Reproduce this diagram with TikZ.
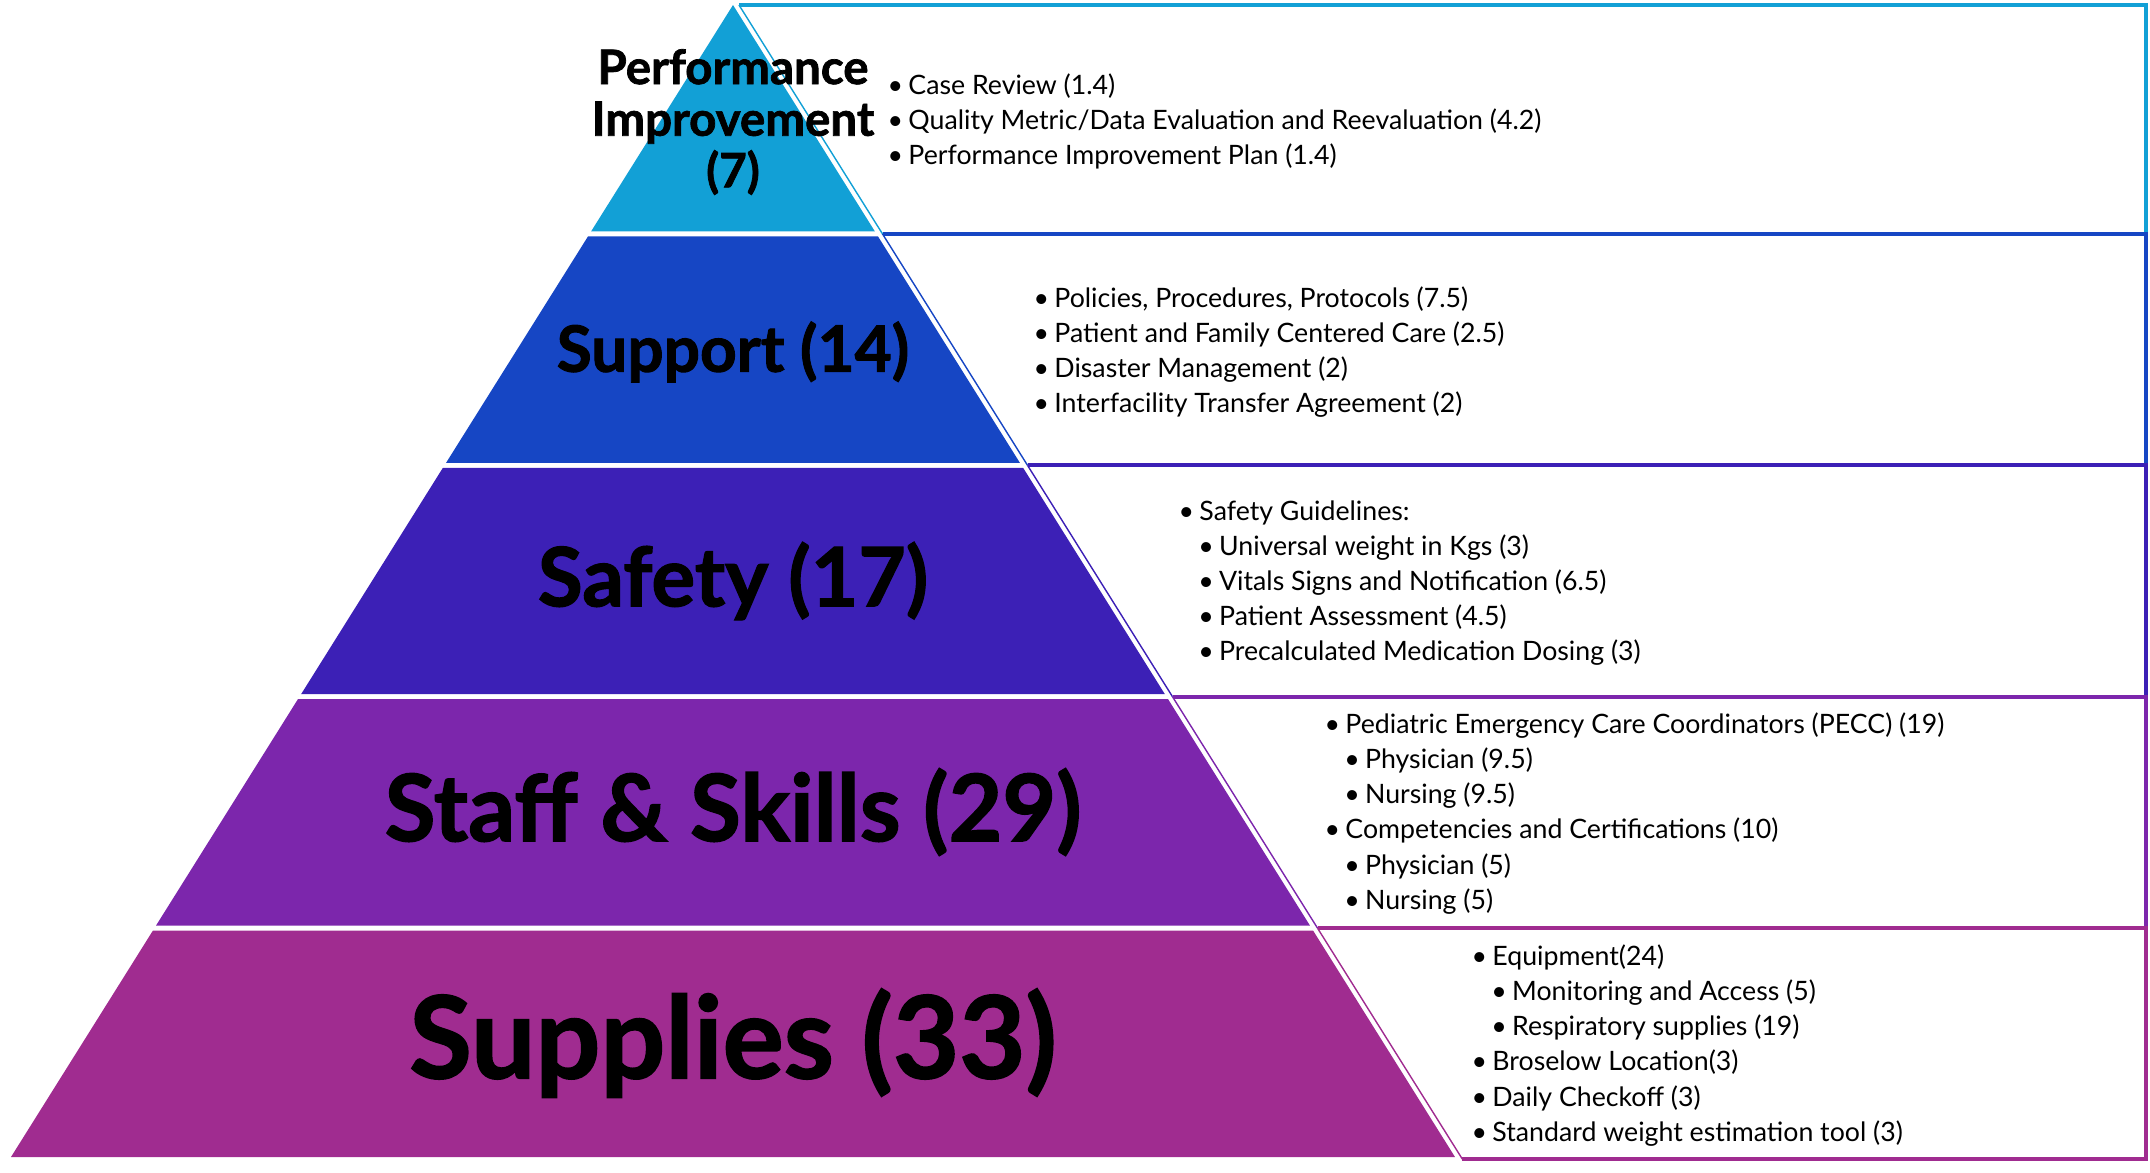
\documentclass[tikz,border=0pt]{standalone}
\usepackage{fontspec}
\setmainfont{Lato}
\newfontfamily\ttlfont[BoldFeatures={FakeBold=1.5}]{Lato}
\definecolor{cA}{RGB}{18,160,214}
\definecolor{cB}{RGB}{22,70,196}
\definecolor{cC}{RGB}{60,32,182}
\definecolor{cD}{RGB}{124,38,172}
\definecolor{cE}{RGB}{160,44,144}
\newcommand\bitem{\makebox[5.9pt][l]{\textbullet}}
\newcommand\sitem{\hspace*{5.6pt}\bitem}
\begin{document}
\begin{tikzpicture}[x=0.1mm,y=-0.1mm,
  ttl/.style={text=black, align=center, inner sep=0pt},
  lst/.style={anchor=north west, align=left, inner sep=0pt, font=\fontsize{7.6}{10}\selectfont},
  edge/.style={line width=1.14pt, line join=miter},
  diag/.style={line width=0.4pt}]
\useasboundingbox (0,0) rectangle (2150,1173);

% text boxes
\draw[edge, cA] (739,5) -- (2146,5) -- (2146,233.9);
\draw[diag, cA] (739,5) -- (882.5,233.9);
\draw[edge, cB] (882.5,233.9) -- (2146,233.9) -- (2146,465.3);
\draw[diag, cB] (882.5,233.9) -- (1027.5,465.3);
\draw[edge, cC] (1027.5,465.3) -- (2146,465.3) -- (2146,696.7);
\draw[diag, cC] (1027.5,465.3) -- (1172.5,696.7);
\draw[edge, cD] (1172.5,696.7) -- (2146,696.7) -- (2146,928.1);
\draw[diag, cD] (1172.5,696.7) -- (1317.5,928.1);
\draw[edge, cE] (1317.5,928.1) -- (2146,928.1) -- (2146,1159) -- (1462.3,1159);
\draw[diag, cE] (1317.5,928.1) -- (1462.3,1159);

% pyramid bands
\fill[cA] (733,5) -- (874.9,231.4) -- (591.1,231.4) -- cycle;
\fill[cB] (588.0,236.4) -- (878.0,236.4) -- (1019.9,462.8) -- (446.1,462.8) -- cycle;
\fill[cC] (442.9,467.8) -- (1023.1,467.8) -- (1164.9,694.2) -- (301.1,694.2) -- cycle;
\fill[cD] (297.9,699.2) -- (1168.1,699.2) -- (1310.0,925.6) -- (156.0,925.6) -- cycle;
\fill[cE] (152.9,930.6) -- (1313.1,930.6) -- (1455,1157) -- (11,1157) -- cycle;

% titles
\node[ttl, font=\ttlfont\bfseries\fontsize{13.5}{14.7}\selectfont] (t1) at (733,122) {Performance\\Improvement\\(7)};
\node[ttl, font=\ttlfont\bfseries\fontsize{18.2}{20}\selectfont] (t2) at (733,352) {Support (14)};
\node[ttl, font=\ttlfont\bfseries\fontsize{23.3}{25}\selectfont] (t3) at (733,581) {Safety (17)};
\node[ttl, font=\ttlfont\bfseries\fontsize{26.4}{28}\selectfont] (t4) at (733,812) {Staff \& Skills (29)};
\node[ttl, font=\ttlfont\bfseries\fontsize{32.5}{35}\selectfont] (t5) at (733,1043) {Supplies (33)};

% lists
\node[lst] (l1) at (887,73) {\bitem Case Review (1.4)\\
\bitem Quality Metric/Data Evaluation and Reevaluation (4.2)\\
\bitem Performance Improvement Plan (1.4)};
\node[lst] (l2) at (1033,286) {\bitem Policies, Procedures, Protocols (7.5)\\
\bitem Patient and Family Centered Care (2.5)\\
\bitem Disaster Management (2)\\
\bitem Interfacility Transfer Agreement (2)};
\node[lst] (l3) at (1178,500) {\bitem Safety Guidelines:\\
\sitem Universal weight in Kgs (3)\\
\sitem Vitals Signs and Notification (6.5)\\
\sitem Patient Assessment (4.5)\\
\sitem Precalculated Medication Dosing (3)};
\node[lst] (l4) at (1324,712) {\bitem Pediatric Emergency Care Coordinators (PECC) (19)\\
\sitem Physician (9.5)\\
\sitem Nursing (9.5)\\
\bitem Competencies and Certifications (10)\\
\sitem Physician (5)\\
\sitem Nursing (5)};
\node[lst] (l5) at (1471,944) {\bitem Equipment(24)\\
\sitem Monitoring and Access (5)\\
\sitem Respiratory supplies (19)\\
\bitem Broselow Location(3)\\
\bitem Daily Checkoff (3)\\
\bitem Standard weight estimation tool (3)};
\end{tikzpicture}
\end{document}
